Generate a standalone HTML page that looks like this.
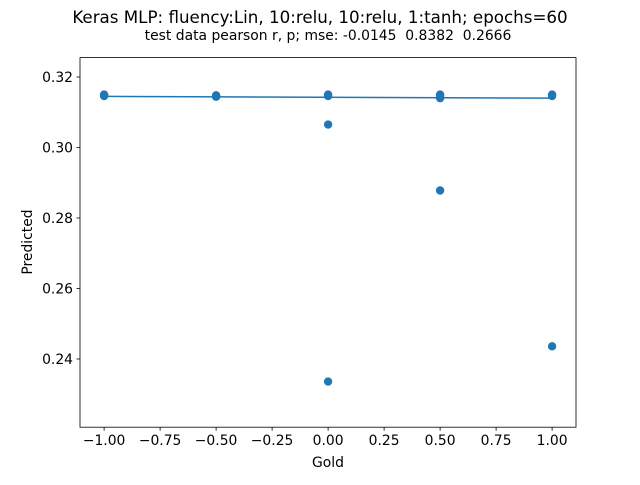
<!DOCTYPE html>
<html><head><meta charset="utf-8"><style>
body{margin:0;background:#fff;}
svg text{font-family:"DejaVu Sans","Liberation Sans",sans-serif;fill:#000;white-space:pre;}
</style></head><body>
<svg id="chart" width="640" height="480" xmlns="http://www.w3.org/2000/svg">
<rect width="640" height="480" fill="#fff"/>
<text x="320" y="23" font-size="16.7" text-anchor="middle">Keras MLP: fluency:Lin, 10:relu, 10:relu, 1:tanh; epochs=60</text>
<text x="328" y="40" font-size="13.9" text-anchor="middle" xml:space="preserve">test data pearson r, p; mse: -0.0145  0.8382  0.2666</text>
<g id="plot"></g>
<text x="328" y="467" font-size="13.9" text-anchor="middle">Gold</text>
<text transform="translate(32,242) rotate(-90)" font-size="13.9" text-anchor="middle">Predicted</text>
</svg>
<script>
const goldX = [-1,-1,-1,-0.5,-0.5,-0.5,0,0,0,0,0.5,0.5,0.5,0.5,1,1,1];
const predY = [0.3150,0.3148,0.3146,0.3148,0.3146,0.3144,0.3150,0.3146,0.3065,0.2336,0.3150,0.3146,0.3140,0.2878,0.3150,0.3146,0.2436];
const lineX = [-1,1];
const lineY = [0.3145,0.3140];
const xTicks = [-1,-0.75,-0.5,-0.25,0,0.25,0.5,0.75,1];
const xTickLabels = ["\u22121.00","\u22120.75","\u22120.50","\u22120.25","0.00","0.25","0.50","0.75","1.00"];
const yTicks = [0.24,0.26,0.28,0.30,0.32];
const yTickLabels = ["0.24","0.26","0.28","0.30","0.32"];
const L=80,R=576,T=57.6,B=427.2;
const xMin=-1.1076,xMax=1.1067,yMin=0.22065,yMax=0.3255;
const sx=v=>L+(v-xMin)/(xMax-xMin)*(R-L);
const sy=v=>B-(v-yMin)/(yMax-yMin)*(B-T);
const NS="http://www.w3.org/2000/svg";
const g=document.getElementById('plot');
function mk(t,a){const e=document.createElementNS(NS,t);for(const k in a)e.setAttribute(k,a[k]);g.appendChild(e);return e;}
goldX.forEach((x,i)=>{
 const c=mk('circle',{cx:sx(x),cy:sy(predY[i]),r:4.2,fill:'#1f77b4'});
 
 
});
const ln=mk('line',{x1:sx(lineX[0]),y1:sy(lineY[0]),x2:sx(lineX[1]),y2:sy(lineY[1]),stroke:'#1f77b4','stroke-width':1.5});


const fr=mk('rect',{x:L,y:T,width:R-L,height:B-T,fill:'none',stroke:'#000','stroke-width':0.8});


xTicks.forEach((v,i)=>{
 const x=sx(v);
 const tk=mk('line',{x1:x,y1:B,x2:x,y2:B+3.5,stroke:'#000','stroke-width':0.8});
 
 
 const t=mk('text',{x:x,y:B+18,'font-size':13.9,'text-anchor':'middle'});
 t.textContent=xTickLabels[i];
 
 
});
yTicks.forEach((v,i)=>{
 const y=sy(v);
 const tk=mk('line',{x1:L-3.5,y1:y,x2:L,y2:y,stroke:'#000','stroke-width':0.8});
 
 
 const t=mk('text',{x:L-7,y:y+5,'font-size':13.9,'text-anchor':'end'});
 t.textContent=yTickLabels[i];
 
 
});
</script>
</body></html>
